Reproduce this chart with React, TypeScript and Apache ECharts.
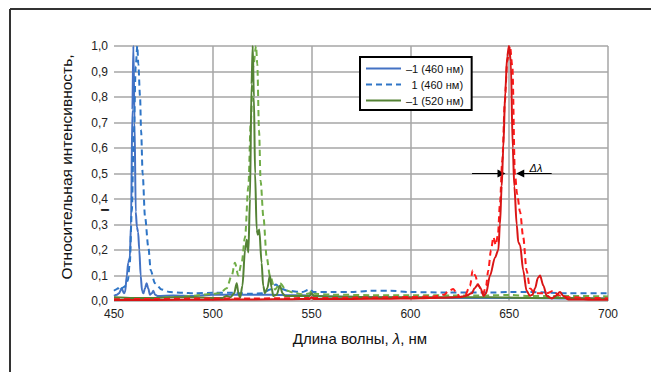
import React, { useEffect, useRef } from "react";
import * as echarts from "echarts";

// wavelength (nm), relative intensity
const blueSolid460: [number, number][] = [
  [450, 0.02], [451.5, 0.025], [452.5, 0.03], [453.9, 0.05], [455, 0.03], [455.6, 0.035], [456.5, 0.1],
  [457.2, 0.15], [458, 0.17], [458.6, 0.3], [459.3, 0.75], [459.8, 1.0], [460.4, 0.7], [461, 0.35],
  [461.6, 0.29], [462.2, 0.27], [462.8, 0.2], [463.5, 0.1], [464.2, 0.04], [464.9, 0.03], [465.7, 0.05],
  [466.5, 0.07], [467.3, 0.05], [468.2, 0.025], [469.1, 0.03], [469.9, 0.04], [470.8, 0.025], [472, 0.02],
  [480, 0.022], [490, 0.02], [500, 0.025], [510, 0.025], [520, 0.025], [530, 0.025], [540, 0.023],
  [549, 0.022], [550, 0.03], [551, 0.02], [560, 0.018], [580, 0.015], [600, 0.013], [620, 0.012],
  [640, 0.012], [660, 0.012], [680, 0.01], [700, 0.01],
];
const blueDashed460: [number, number][] = [
  [450, 0.04], [451, 0.045], [452, 0.05], [453, 0.04], [454, 0.05], [455, 0.055], [456, 0.06], [457, 0.08],
  [458, 0.15], [459, 0.35], [460, 0.65], [461, 0.92], [461.8, 1.0], [462.3, 0.93], [463.2, 0.8],
  [463.7, 0.67], [464.5, 0.5], [465.7, 0.33], [467.4, 0.21], [468.6, 0.12], [470.7, 0.07], [474.1, 0.045],
  [478.3, 0.035], [485, 0.032], [490, 0.03], [500, 0.032], [510, 0.032], [520, 0.028], [525, 0.03],
  [529, 0.045], [532, 0.065], [534, 0.05], [538, 0.04], [545, 0.035], [549, 0.045], [551, 0.035],
  [560, 0.035], [570, 0.035], [580, 0.04], [590, 0.04], [600, 0.035], [620, 0.033], [640, 0.033],
  [650, 0.035], [660, 0.035], [680, 0.03], [700, 0.03],
];
const greenSolid520: [number, number][] = [
  [450, 0.015], [460, 0.012], [470, 0.012], [480, 0.015], [490, 0.015], [500, 0.012], [505, 0.012],
  [507, 0.02], [509, 0.015], [510.8, 0.03], [512.1, 0.07], [513, 0.03], [513.8, 0.012], [515, 0.06],
  [516.3, 0.2], [517.2, 0.24], [518, 0.19], [518.8, 0.4], [519.6, 0.85], [520.2, 1.0], [520.8, 0.8],
  [521.4, 0.5], [522.2, 0.28], [522.8, 0.26], [523.5, 0.28], [524.7, 0.15], [525.5, 0.06], [526.4, 0.03],
  [527.6, 0.05], [528.9, 0.1], [529.8, 0.05], [530.6, 0.02], [532.3, 0.025], [534, 0.06], [535.3, 0.03],
  [536.5, 0.02], [540, 0.02], [545, 0.02], [549, 0.02], [550, 0.03], [551, 0.02], [560, 0.018],
  [580, 0.015], [600, 0.015], [620, 0.015], [640, 0.015], [660, 0.012], [680, 0.012], [700, 0.01],
];
const greenDashed520: [number, number][] = [
  [450, 0.012], [460, 0.01], [470, 0.012], [480, 0.015], [490, 0.02], [495, 0.025], [500, 0.028],
  [503.6, 0.03], [507, 0.05], [509.6, 0.1], [511.2, 0.15], [512.9, 0.1], [514.6, 0.15], [516.3, 0.25],
  [518, 0.45], [519.2, 0.7], [520.5, 0.92], [521.9, 1.0], [522.5, 0.93], [523.4, 0.67], [524.2, 0.47],
  [525.6, 0.33], [527.3, 0.17], [528.9, 0.1], [531.5, 0.045], [534, 0.07], [537.4, 0.04], [542, 0.03],
  [546, 0.025], [549, 0.03], [550, 0.04], [551, 0.028], [560, 0.025], [580, 0.023], [600, 0.023],
  [620, 0.022], [640, 0.022], [650, 0.024], [660, 0.02], [680, 0.02], [700, 0.018],
];
const redSolid650: [number, number][] = [
  [450, 0.004], [470, 0.004], [500, 0.005], [520, 0.006], [540, 0.007], [549, 0.008], [550, 0.015],
  [551, 0.008], [570, 0.008], [590, 0.009], [600, 0.01], [610, 0.012], [620, 0.014], [625, 0.016],
  [628, 0.02], [631, 0.03], [632.5, 0.05], [634.2, 0.065], [635.5, 0.05], [637, 0.02], [638.3, 0.03],
  [640.3, 0.1], [642.8, 0.17], [644.5, 0.2], [645.3, 0.3], [646.2, 0.45], [647, 0.6], [648, 0.82],
  [649, 0.96], [649.9, 1.0], [650.8, 0.94], [651.8, 0.6], [652.6, 0.45], [653.8, 0.3], [654.6, 0.23],
  [655.5, 0.22], [657.1, 0.12], [658.8, 0.04], [660.5, 0.02], [661.8, 0.025], [663.1, 0.05], [664.5, 0.09],
  [665.6, 0.1], [667.3, 0.06], [669, 0.02], [671.5, 0.01], [673.5, 0.02], [675.7, 0.035], [677.4, 0.02],
  [679.9, 0.006], [685, 0.006], [690, 0.005], [700, 0.005],
];
const redDashed650: [number, number][] = [
  [450, 0.007], [470, 0.008], [500, 0.01], [520, 0.01], [540, 0.011], [549, 0.012], [550, 0.02],
  [551, 0.012], [560, 0.012], [580, 0.014], [600, 0.016], [612, 0.018], [617, 0.025], [619.5, 0.04],
  [621.7, 0.047], [623.5, 0.03], [625.1, 0.015], [627.5, 0.02], [630.2, 0.06], [631.5, 0.12],
  [632.8, 0.1], [634.4, 0.06], [636.9, 0.03], [638.3, 0.06], [639.4, 0.12], [640.8, 0.2], [642, 0.25],
  [643.2, 0.22], [644.3, 0.26], [645.3, 0.38], [646.5, 0.55], [647.8, 0.78], [649, 0.94], [650.4, 1.0],
  [651.6, 0.92], [652.9, 0.5], [654, 0.42], [655.5, 0.35], [657.1, 0.25], [658.8, 0.12], [660.5, 0.05],
  [663, 0.03], [666, 0.03], [669, 0.03], [672.3, 0.04], [674.5, 0.025], [676, 0.02], [680, 0.015],
  [690, 0.012], [700, 0.01],
];

const legendNames = ["–1 (460 нм)", "1 (460 нм)", "–1 (520 нм)"];
const otherNames = ["1 (520 нм)", "–1 (650 нм)", "1 (650 нм)"];
const xMin = 450, xMax = 700, xStep = 50;
const yMin = 0, yMax = 1, yStep = 0.1;
// Δλ annotation (wavelengths at half maximum level)
const halfLevel = 0.5;
const leftArrow = [631.2, 646.1];
const rightArrow = [671.5, 655.6];

const FONT = "'Liberation Sans', Arial, sans-serif";

export default function App() {
  const ref = useRef<HTMLDivElement>(null);
  useEffect(() => {
    if (!ref.current) return;
    const chart = echarts.init(ref.current, undefined, { renderer: "svg" });
    const line = (name: string, data: [number, number][], color: string, dashed: boolean, z: number, extra: any = {}) => ({
      name,
      type: "line",
      data,
      symbol: "none",
      smooth: 0.3,
      smoothMonotone: "x",
      z,
      lineStyle: { color, width: 2, type: dashed ? [6, 4] : "solid" },
      itemStyle: { color },
      ...extra,
    });
    chart.setOption({
      animation: false,
      backgroundColor: "#ffffff",
      textStyle: { fontFamily: FONT },
      grid: { left: 114, right: 43, top: 46, bottom: 71, containLabel: false },
      legend: {
        data: legendNames,
        orient: "vertical",
        left: 360,
        top: 57,
        padding: [6, 8, 4, 5],
        itemGap: 5,
        itemWidth: 35,
        itemHeight: 12,
        borderColor: "#000000",
        borderWidth: 2,
        backgroundColor: "#ffffff",
        selectedMode: false,
        itemStyle: { opacity: 0 },
        formatter: (n: string) => (n.startsWith("1") ? "\u2002" + n : n),
        textStyle: { fontSize: 11, color: "#111", fontFamily: FONT },
      },
      xAxis: {
        type: "value",
        min: xMin,
        max: xMax,
        interval: xStep,
        axisLine: { show: false },
        axisTick: { show: false },
        axisLabel: { fontSize: 12, color: "#222", margin: 7, fontFamily: FONT },
        splitLine: { show: true, showMinLine: false, lineStyle: { color: "#a6a6a6", width: 1.5 } },
      },
      yAxis: {
        type: "value",
        min: yMin,
        max: yMax,
        interval: yStep,
        axisLine: { show: false },
        axisTick: { show: false },
        axisLabel: {
          fontSize: 12,
          color: "#222",
          margin: 6,
          fontFamily: FONT,
          formatter: (v: number) => v.toFixed(1).replace(".", ","),
        },
        splitLine: { show: true, lineStyle: { color: "#a6a6a6", width: 1.5 } },
      },
      series: [
        line(legendNames[0], blueSolid460, "#4472c4", false, 3),
        line(legendNames[1], blueDashed460, "#2e75c6", true, 3),
        line(otherNames[0], greenDashed520, "#70ad47", true, 4),
        line(legendNames[2], greenSolid520, "#548235", false, 4),
        line(otherNames[2], redDashed650, "#ff1a1a", true, 5),
        line(otherNames[1], redSolid650, "#d91515", false, 6, {
          markLine: {
            silent: true,
            symbol: ["none", "triangle"],
            symbolSize: 8,
            lineStyle: { color: "#000", width: 1, type: "solid" },
            label: { show: false },
            data: [
              [{ coord: [leftArrow[0], halfLevel] }, { coord: [leftArrow[1], halfLevel] }],
              [
                {
                  coord: [rightArrow[0], halfLevel],
                  label: {
                    show: true,
                    position: "insideMiddleTop",
                    distance: 0,
                    formatter: "Δλ",
                    fontSize: 11,
                    fontStyle: "italic",
                    color: "#000",
                    fontFamily: FONT,
                  },
                },
                { coord: [rightArrow[1], halfLevel] },
              ],
            ],
          },
        }),
      ],
      graphic: [
        { type: "line", shape: { x1: 10, y1: 9, x2: 651, y2: 9 }, style: { stroke: "#333", lineWidth: 2 } },
        { type: "line", shape: { x1: 10, y1: 9, x2: 10, y2: 372 }, style: { stroke: "#333", lineWidth: 2 } },
        {
          type: "text",
          x: 66,
          y: 167,
          rotation: Math.PI / 2,
          style: {
            text: "Относительная интенсивность,",
            fontSize: 15.5,
            fontFamily: FONT,
            fill: "#111",
            align: "center",
            verticalAlign: "middle",
          },
        },
        {
          type: "text",
          x: 105,
          y: 210,
          rotation: Math.PI / 2,
          style: {
            text: "I",
            fontSize: 11,
            fontWeight: "bold",
            fontFamily: FONT,
            fill: "#000",
            align: "center",
            verticalAlign: "middle",
          },
        },
        {
          type: "text",
          x: 360,
          y: 338,
          style: {
            text: "Длина волны, {i|λ}, нм",
            fontSize: 15,
            fontFamily: FONT,
            fill: "#111",
            align: "center",
            verticalAlign: "middle",
            rich: { i: { fontStyle: "italic", fontSize: 15, fontFamily: FONT, fill: "#111" } },
          },
        },
      ],
    });
    return () => chart.dispose();
  }, []);
  return (
    <div
      ref={ref}
      style={{ position: "fixed", left: 0, top: 0, width: 651, height: 372, background: "#fff" }}
    />
  );
}
